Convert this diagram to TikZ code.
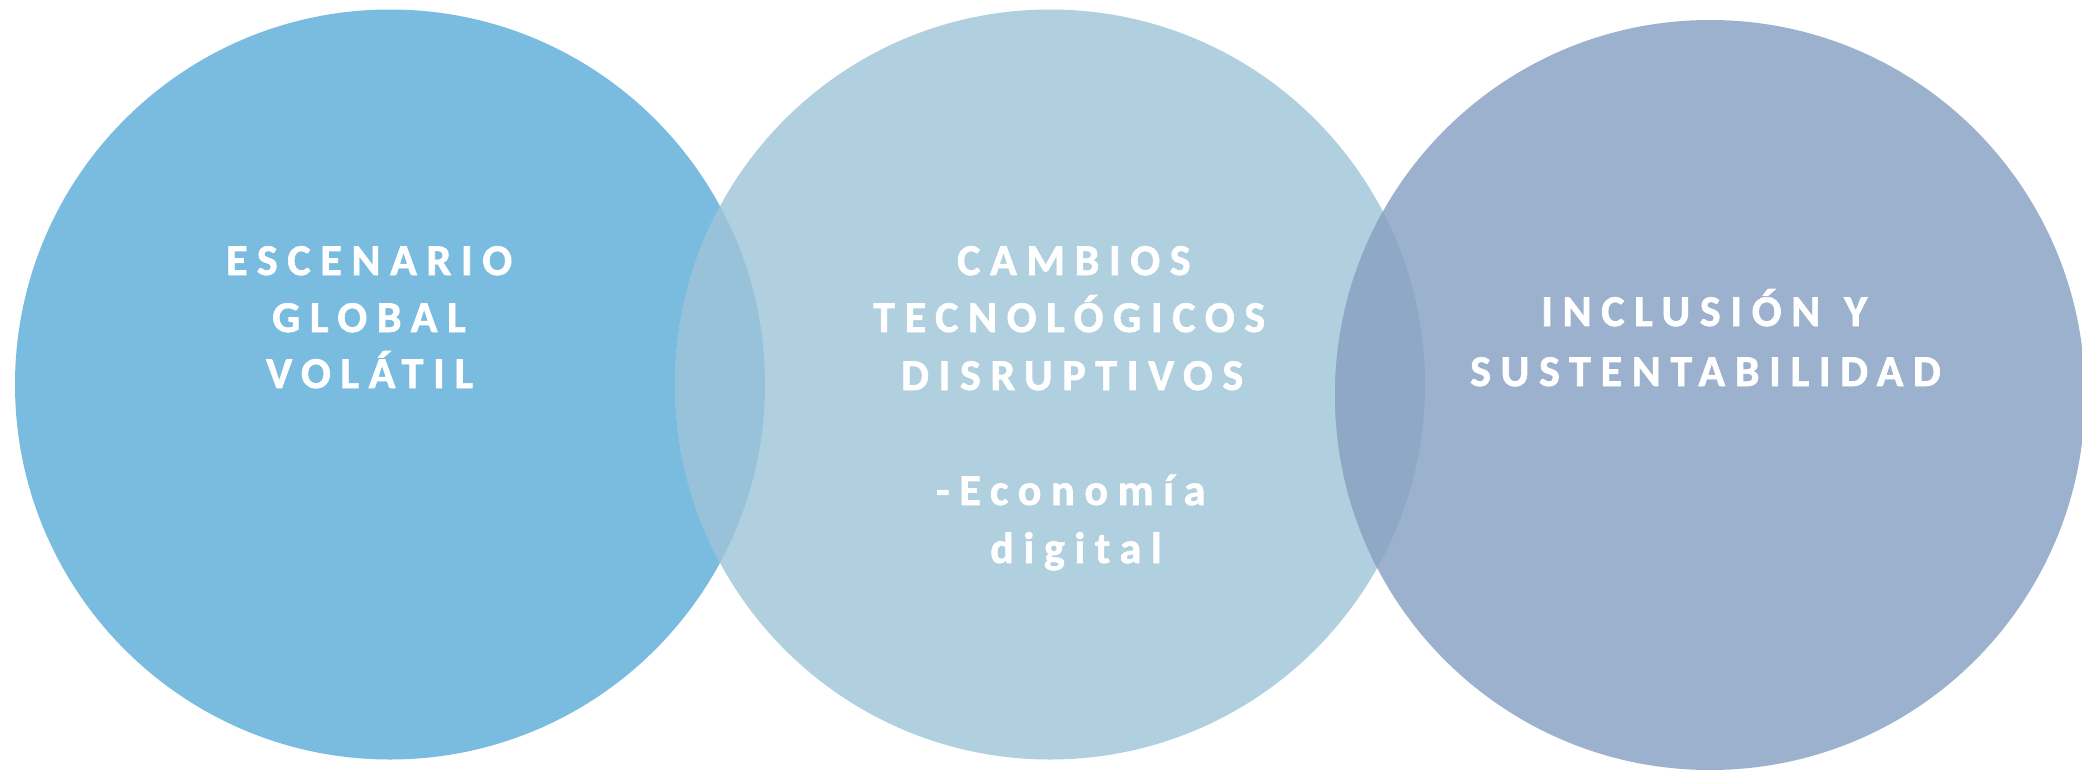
\documentclass[tikz,border=0pt]{standalone}
\usepackage{fontspec}
\setmainfont{Carlito}
\newfontfamily\lblfont[LetterSpace=22,FakeBold=1.5]{Carlito Bold}
\definecolor{cA}{HTML}{7ABBE0}
\definecolor{cB}{HTML}{B0CFDF}
\definecolor{cC}{HTML}{9CB1CE}
\definecolor{cAB}{HTML}{97C2D9}
\definecolor{cBC}{HTML}{8EA8C6}
\begin{document}
\begin{tikzpicture}[x=1pt,y=-1pt,
  lbl/.style={text=white,font=\lblfont\fontsize{44}{53}\selectfont,anchor=base west,inner sep=0pt}]
\useasboundingbox (0,0) rectangle (2082,769);
\fill[white] (0,0) rectangle (2082,769);
% circles
\fill[cA] (390,384.5) circle[radius=375];
\fill[cB] (1050,384.5) circle[radius=375];
\fill[cC] (1710,395) circle[radius=375];
\begin{scope}
  \clip (390,384.5) circle[radius=375];
  \fill[cAB] (1050,384.5) circle[radius=375];
\end{scope}
\begin{scope}
  \clip (1050,384.5) circle[radius=375];
  \fill[cBC] (1710,395) circle[radius=375];
\end{scope}
% texts
\node[lbl] (t1) at (226,275) {ESCENARIO};
\node[lbl] (t2) at (272,332) {GLOBAL};
\node[lbl] (t3) at (266,388) {VOLÁTIL};
\node[lbl] (t4) at (957,275) {CAMBIOS};
\node[lbl] (t5) at (873,332) {TECNOLÓGICOS};
\node[lbl] (t6) at (901,390) {DISRUPTIVOS};
\node[lbl] (t7) at (936,505) {-Economía};
\node[lbl] (t8) at (990,563) {digital};
\node[lbl] (t9) at (1541,326) {INCLUSIÓN\hspace{24pt}Y};
\node[lbl] (t10) at (1470,386) {SUSTENTABILIDAD};
\end{tikzpicture}
\end{document}
